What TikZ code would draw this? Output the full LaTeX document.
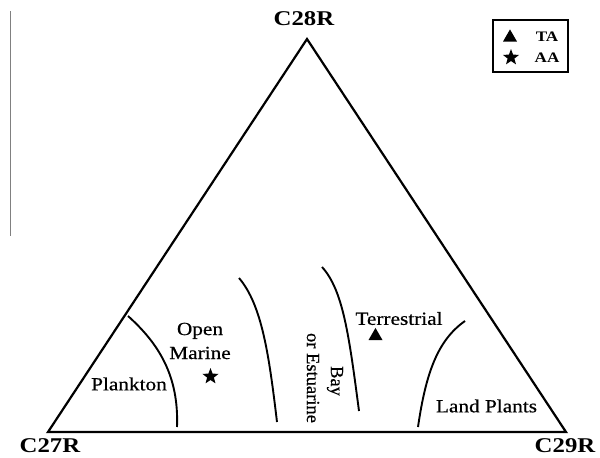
\documentclass[tikz,border=0pt]{standalone}
\usepackage{fontspec}
\setmainfont{Liberation Serif}
\newfontfamily\bodyfont[FakeStretch=1.15,FakeBold=0.6]{Liberation Serif}
\newfontfamily\axisfont[FakeStretch=1.18]{Liberation Serif}
\newfontfamily\vertfont[FakeStretch=1.0,FakeBold=0.6]{Liberation Serif}
\usetikzlibrary{shapes.geometric}
\begin{document}
\begin{tikzpicture}[x=1pt,y=-1pt,
  axislabel/.style={font=\axisfont\bfseries\fontsize{21}{22}\selectfont, inner sep=0pt},
  regionlabel/.style={font=\bodyfont\fontsize{18.5}{24}\selectfont, inner sep=0pt, align=center},
  vertlabel/.style={font=\vertfont\fontsize{18.5}{22}\selectfont, inner sep=0pt, rotate=-90},
  legendlabel/.style={font=\axisfont\bfseries\fontsize{14.5}{16}\selectfont, inner sep=0pt},
  boundary/.style={line width=1.9pt},
  starmark/.style={star, star points=5, star point ratio=2.4, fill=black, inner sep=0pt, minimum size=17pt},
  trimark/.style={isosceles triangle, isosceles triangle apex angle=60, shape border rotate=90, fill=black, inner sep=0pt, minimum height=12pt, minimum width=14pt}
]
\useasboundingbox (0,0) rectangle (600,458);
% left gray bar
\coordinate (g1) at (10.5,11);
\coordinate (g2) at (10.5,236);
\draw[line width=1.8pt, gray] (g1) -- (g2);

% triangle vertices
\coordinate (top) at (307,39);
\coordinate (left) at (48,432);
\coordinate (right) at (566,432);
\draw[line width=2.2pt, line join=miter] (left) -- (top) -- (right) -- cycle;

% corner labels
\node[axislabel] (c28) at (304,18.5) {C28R};
\node[axislabel] (c27) at (50,446) {C27R};
\node[axislabel] (c29) at (565,446) {C29R};

% boundaries
\coordinate (p1) at (128,316); \coordinate (p2) at (177,427);
\draw[boundary] (p1) .. controls (158,343) and (179,375) .. (p2);
\coordinate (q1) at (239,278); \coordinate (q2) at (277,422);
\draw[boundary] (q1) .. controls (262,305) and (269,355) .. (q2);
\coordinate (r1) at (322,267); \coordinate (r2) at (359,411);
\draw[boundary] (r1) .. controls (343,290) and (349,335) .. (r2);
\coordinate (s1) at (465,321); \coordinate (s2) at (418,427);
\draw[boundary] (s1) .. controls (438,340) and (426,372) .. (s2);

% region labels
\node[regionlabel] (plankton) at (129,384) {Plankton};
\node[regionlabel] (openmarine) at (200,341) {Open\\Marine};
\node[regionlabel] (terrestrial) at (399,318.5) {Terrestrial};
\node[regionlabel] (landplants) at (486.5,406) {Land Plants};
\node[vertlabel] (bay) at (335,381) {Bay};
\node[vertlabel] (estuarine) at (313,378) {or Estuarine};

% sample markers
\node[starmark] (aa) at (210.5,376.5) {};
\node[trimark] (ta) at (375.5,336) {};

% legend
\node[draw, line width=2.4pt, minimum width=75pt, minimum height=52pt, inner sep=0pt] (legend) at (530.5,46) {};
\node[trimark] (legtri) at (510,37.5) {};
\node[legendlabel] (legta) at (547,37) {TA};
\node[starmark] (legstar) at (511,57.5) {};
\node[legendlabel] (legaa) at (547,58) {AA};
\end{tikzpicture}
\end{document}
